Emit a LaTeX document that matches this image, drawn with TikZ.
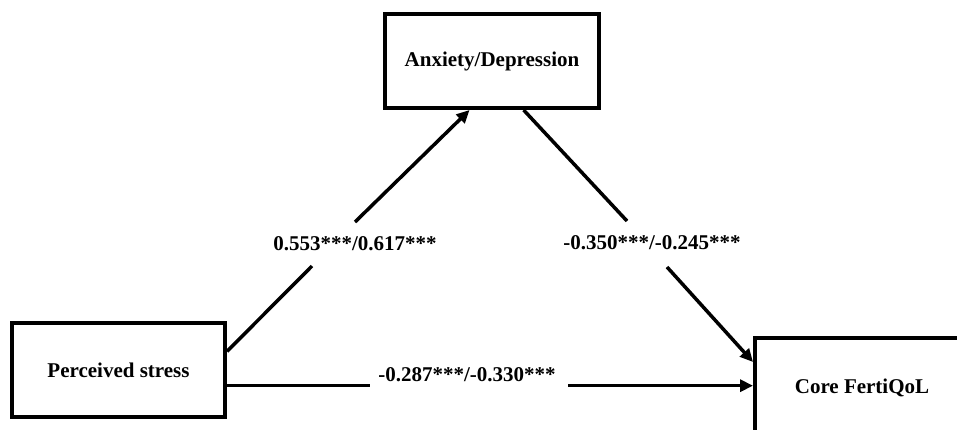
\documentclass[tikz,border=0pt]{standalone}
\usepackage{fontspec}
\setmainfont{Liberation Serif}
\usetikzlibrary{arrows.meta,calc}
\tikzset{
  boxnode/.style={draw=black, line width=4pt, fill=white, inner sep=0pt,
    font=\fontsize{21}{25}\selectfont\bfseries},
  lbl/.style={inner sep=0pt, font=\fontsize{21}{25}\selectfont\bfseries},
  conn/.style={line width=3.5pt, draw=black},
  arr/.style={conn, -{Triangle[length=13pt,width=12pt]}}
}
\begin{document}
\begin{tikzpicture}[x=1pt,y=-1pt]
\useasboundingbox (0,0) rectangle (957,429);
\clip (0,0) rectangle (957,429);
\fill[white] (0,0) rectangle (957,429);
\node[boxnode, minimum width=214pt, minimum height=94pt] (anx) at (492,61) {Anxiety/Depression};
\node[boxnode, minimum width=213pt, minimum height=94pt] (ps) at (118.5,370) {Perceived stress};
\node[boxnode, minimum width=214pt, minimum height=100pt] (core) at (862,388) {Core FertiQoL};
% connector 1: Perceived stress -> Anxiety/Depression
\coordinate (s1) at ($(ps.north east)!0.31!(ps.south east)$);
\coordinate (e1) at ($(anx.south west)!0.397!(anx.south east)$);
\coordinate (g1a) at (312,266);
\coordinate (g1b) at (355,222);
\draw[conn] (s1) -- (g1a);
\draw[arr] (g1b) -- (e1);
\node[lbl] (l1) at (355,244) {0.553***/0.617***};
% connector 2: Anxiety/Depression -> Core FertiQoL
\coordinate (s2) at ($(anx.south west)!0.645!(anx.south east)$);
\coordinate (e2) at ($(core.north west)!0.25!(core.south west)$);
\coordinate (g2a) at (627,221);
\coordinate (g2b) at (667,267);
\draw[conn] (s2) -- (g2a);
\draw[arr] (g2b) -- (e2);
\node[lbl] (l2) at (652,243) {-0.350***/-0.245***};
% connector 3: Perceived stress -> Core FertiQoL
\coordinate (s3) at ($(ps.north east)!0.66!(ps.south east)$);
\coordinate (e3) at (core.west |- s3);
\coordinate (g3a) at (370,0 |- s3);
\coordinate (g3b) at (568,0 |- s3);
\draw[conn] (s3) -- (g3a);
\draw[arr] (g3b) -- (e3);
\node[lbl] (l3) at (467,375) {-0.287***/-0.330***};
\end{tikzpicture}
\end{document}
